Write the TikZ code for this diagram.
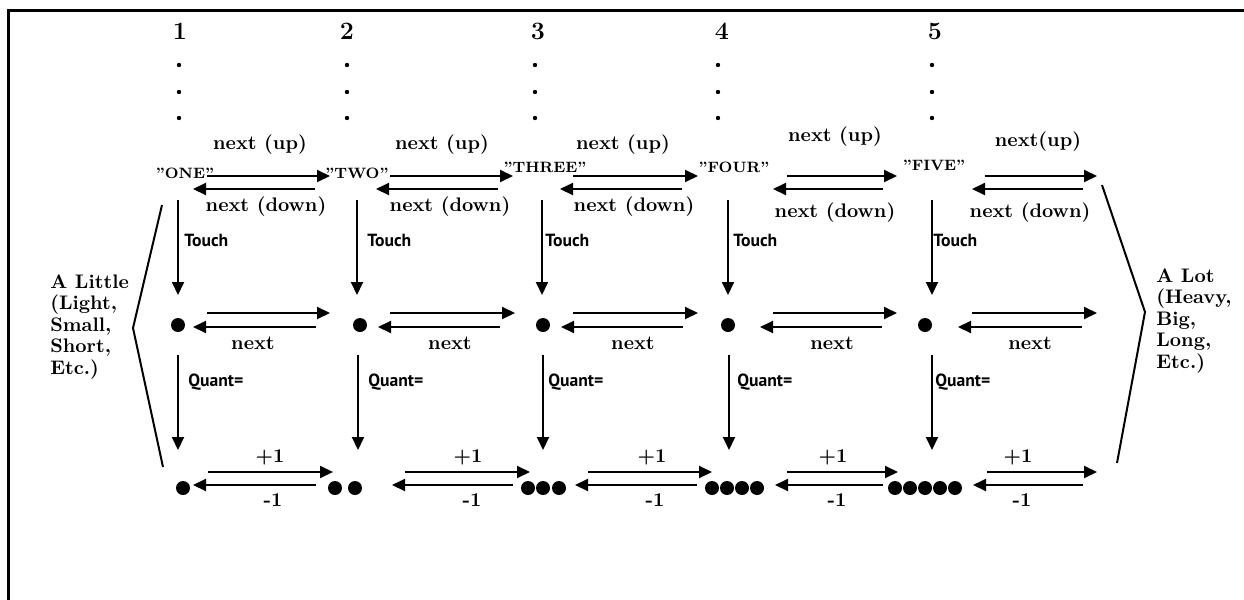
\documentclass[tikz,border=0pt]{standalone}
\usepackage{fontspec}
\newfontfamily\sanslbl{PT Sans}
\usetikzlibrary{arrows.meta}
\tikzset{
  arr/.style={-{Triangle[length=6.5pt,width=6pt]},line width=1pt},
  nextlbl/.style={font=\fontsize{9.8}{11}\selectfont\bfseries,inner sep=0pt},
  numlbl/.style={font=\fontsize{12.5}{14}\selectfont\bfseries,inner sep=0pt},
  namelbl/.style={font=\fontsize{7.5}{8}\selectfont\bfseries,inner sep=0pt},
  linklbl/.style={font=\sanslbl\bfseries\fontsize{8.8}{9}\selectfont,anchor=west,inner sep=0pt},
  bead/.style={circle,fill,inner sep=0pt,minimum size=7pt},
  tick/.style={circle,fill,inner sep=0pt,minimum size=2.2pt},
  sidelbl/.style={font=\fontsize{9.8}{10.8}\selectfont\bfseries,align=left,anchor=north west,inner sep=0pt},
}
\begin{document}
\begin{tikzpicture}[x=0.5pt,y=-0.5pt]
\useasboundingbox (0,0) rectangle (1244,600);
\draw[line width=1.5pt] (8,600) -- (8,10) -- (1244,10);

% column heads with their dots
\foreach \i/\hx/\dx in {1/180/179,2/347/347,3/538/535,4/722/718,5/935/932}{
  \node[numlbl] (num\i) at (\hx,31) {\i};
  \foreach \dy [count=\k] in {65,92,118}
    \node[tick] (dot\i-\k) at (\dx,\dy) {};
}

% names
\node[namelbl] (one) at (185,173) {"ONE"};
\node[namelbl] (two) at (357,173) {"TWO"};
\node[namelbl] (three) at (545,167) {"THREE"};
\node[namelbl] (four) at (734,167) {"FOUR"};
\node[namelbl] (five) at (934,165) {"FIVE"};

% middle dots
\foreach \i/\mx in {1/178,2/360,3/543,4/728,5/925}
  \node[bead] (m\i) at (\mx,325) {};

% bottom dot groups
\foreach \i/\xs in {1/{183},2/{335,355},3/{528,543,559},4/{712,727,742,757},5/{895,910,925,940,955}}{
  \foreach \bx [count=\k] in \xs
    \node[bead] (b\i-\k) at (\bx,488) {};
}

% vertical links: Touch and Quant=
\foreach \i/\ax/\tx/\qax/\qx in {1/178/184/178/188,2/357/367/358/368,3/542/545/543/548,4/728/733/729/737,5/932/933/932/935}{
  \coordinate (ts\i) at (\ax,200);
  \coordinate (te\i) at (\ax,295);
  \coordinate (qs\i) at (\qax,355);
  \coordinate (qe\i) at (\qax,450);
  \draw[arr] (ts\i) -- (te\i);
  \draw[arr] (qs\i) -- (qe\i);
  \node[linklbl] (touch\i) at (\tx,240) {Touch};
  \node[linklbl] (quant\i) at (\qx,382) {Quant=};
}

% top row arrows
\foreach \g/\rs/\re/\ls/\le in {1/207/330/315/193,2/390/513/498/376,3/573/698/682/560,4/787/897/883/773,5/985/1097/1083/972}{
  \coordinate (ua\g) at (\rs,176); \coordinate (ub\g) at (\re,176);
  \coordinate (da\g) at (\ls,189); \coordinate (db\g) at (\le,189);
  \draw[arr] (ua\g) -- (ub\g);
  \draw[arr] (da\g) -- (db\g);
}
% middle row arrows
\foreach \g/\rs/\re/\ls/\le in {1/207/330/316/193,2/390/515/500/378,3/573/698/683/561,4/773/897/882/760,5/972/1097/1082/958}{
  \coordinate (na\g) at (\rs,313); \coordinate (nb\g) at (\re,313);
  \coordinate (pa\g) at (\ls,327); \coordinate (pb\g) at (\le,327);
  \draw[arr] (na\g) -- (nb\g);
  \draw[arr] (pa\g) -- (pb\g);
}
% bottom row arrows
\foreach \g/\rs/\re/\ls/\le in {1/208/333/316/193,2/405/530/513/392,3/588/712/697/575,4/787/898/883/775,5/987/1097/1083/973}{
  \coordinate (ia\g) at (\rs,472); \coordinate (ib\g) at (\re,472);
  \coordinate (ja\g) at (\ls,485); \coordinate (jb\g) at (\le,485);
  \draw[arr] (ia\g) -- (ib\g);
  \draw[arr] (ja\g) -- (jb\g);
}

% arrow labels
\foreach \g/\lx/\ly/\txt in {1/260/145/next (up),2/442/145/next (up),3/623/145/next (up),4/835/137/next (up),5/1038/142/next(up)}
  \node[nextlbl] (up\g) at (\lx,\ly) {\txt};
\foreach \g/\lx/\ly in {1/266/207,2/450/207,3/634/207,4/835/213,5/1030/213}
  \node[nextlbl] (down\g) at (\lx,\ly) {next (down)};
\foreach \g/\lx in {1/253,2/450,3/633,4/832,5/1030}
  \node[nextlbl] (nx\g) at (\lx,343) {next};
\foreach \g/\px/\mx in {1/270/273,2/468/472,3/652/655,4/833/837,5/1018/1022}{
  \node[nextlbl] (plus\g) at (\px,457) {+1};
  \node[nextlbl] (minus\g) at (\mx,500) {-1};
}

% side brackets and texts
\coordinate (lt) at (162,205); \coordinate (lm) at (133,328); \coordinate (lb) at (163,467);
\coordinate (rt) at (1102,185); \coordinate (rm) at (1145,312); \coordinate (rb) at (1117,463);
\draw[line width=1pt] (lt) -- (lm) -- (lb);
\draw[line width=1pt] (rt) -- (rm) -- (rb);
\node[sidelbl] (little) at (50,274) {A Little\\(Light,\\Small,\\Short,\\Etc.)};
\node[sidelbl] (lot) at (1156,268) {A Lot\\(Heavy,\\Big,\\Long,\\Etc.)};
\end{tikzpicture}
\end{document}
